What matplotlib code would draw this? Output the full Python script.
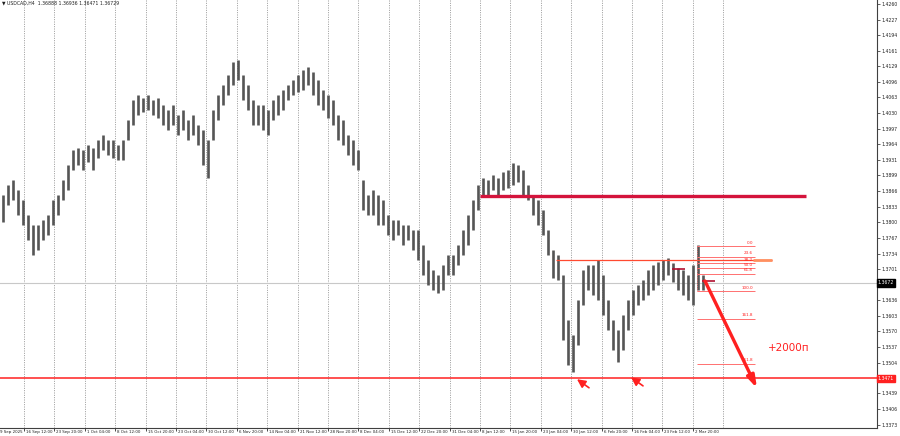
import matplotlib
matplotlib.use("Agg")
import numpy as np
import matplotlib.pyplot as plt

title = "USDCAD,H4  1.36888 1.36936 1.36471 1.36729"

# H4 bars squeezed into 5 px columns, high / low
highs = [1.3857, 1.3878, 1.3889, 1.3868, 1.3847, 1.3815, 1.3794, 1.3794, 1.3805, 1.3815,
         1.3847, 1.3857, 1.3889, 1.3921, 1.3952, 1.3956, 1.3952, 1.3963, 1.3956, 1.3973,
         1.3984, 1.3973, 1.3973, 1.3963, 1.3973, 1.4016, 1.4058, 1.4068, 1.4062, 1.4068,
         1.4058, 1.4062, 1.4047, 1.4037, 1.4047, 1.4026, 1.4037, 1.4016, 1.4026, 1.4005,
         1.3994, 1.3973, 1.4037, 1.4068, 1.4089, 1.4110, 1.4138, 1.4142, 1.4110, 1.4089,
         1.4058, 1.4047, 1.4047, 1.4037, 1.4058, 1.4068, 1.4079, 1.4089, 1.4100, 1.4110,
         1.4121, 1.4127, 1.4117, 1.4100, 1.4079, 1.4068, 1.4058, 1.4026, 1.4016, 1.3984,
         1.3973, 1.3952, 1.3889, 1.3857, 1.3868, 1.3857, 1.3847, 1.3815, 1.3805, 1.3805,
         1.3794, 1.3794, 1.3784, 1.3784, 1.3752, 1.3720, 1.3699, 1.3689, 1.3710, 1.3731,
         1.3731, 1.3752, 1.3784, 1.3815, 1.3847, 1.3878, 1.3893, 1.3889, 1.3900, 1.3893,
         1.3906, 1.3910, 1.3925, 1.3921, 1.3910, 1.3878, 1.3857, 1.3847, 1.3826, 1.3784,
         1.3741, 1.3731, 1.3689, 1.3594, 1.3562, 1.3636, 1.3699, 1.3710, 1.3710, 1.3720,
         1.3689, 1.3636, 1.3594, 1.3573, 1.3604, 1.3636, 1.3657, 1.3668, 1.3678, 1.3699,
         1.3710, 1.3716, 1.3720, 1.3725, 1.3714, 1.3703, 1.3699, 1.3689, 1.3710, 1.3752,
         1.3689]
lows = [1.3800, 1.3836, 1.3847, 1.3815, 1.3794, 1.3763, 1.3731, 1.3741, 1.3763, 1.3773,
        1.3794, 1.3815, 1.3847, 1.3868, 1.3910, 1.3921, 1.3910, 1.3927, 1.3910, 1.3935,
        1.3952, 1.3942, 1.3935, 1.3931, 1.3931, 1.3973, 1.4005, 1.4026, 1.4032, 1.4037,
        1.4026, 1.4020, 1.4005, 1.3994, 1.4005, 1.3984, 1.3994, 1.3973, 1.3984, 1.3963,
        1.3921, 1.3893, 1.3973, 1.4016, 1.4047, 1.4068, 1.4089, 1.4100, 1.4058, 1.4037,
        1.4005, 1.4005, 1.3994, 1.3984, 1.4016, 1.4026, 1.4037, 1.4058, 1.4068, 1.4074,
        1.4079, 1.4089, 1.4068, 1.4047, 1.4037, 1.4020, 1.4005, 1.3973, 1.3963, 1.3942,
        1.3921, 1.3910, 1.3826, 1.3815, 1.3815, 1.3794, 1.3794, 1.3773, 1.3763, 1.3773,
        1.3752, 1.3763, 1.3741, 1.3720, 1.3689, 1.3668, 1.3657, 1.3651, 1.3657, 1.3689,
        1.3689, 1.3710, 1.3731, 1.3752, 1.3784, 1.3826, 1.3857, 1.3857, 1.3868, 1.3857,
        1.3868, 1.3872, 1.3878, 1.3885, 1.3857, 1.3847, 1.3815, 1.3794, 1.3773, 1.3731,
        1.3682, 1.3678, 1.3552, 1.3499, 1.3484, 1.3541, 1.3626, 1.3657, 1.3647, 1.3636,
        1.3604, 1.3573, 1.3531, 1.3505, 1.3531, 1.3573, 1.3604, 1.3626, 1.3636, 1.3647,
        1.3657, 1.3668, 1.3678, 1.3689, 1.3674, 1.3657, 1.3647, 1.3636, 1.3626, 1.3657,
        1.3657]

first_date = "9 Sep 2025"
date_labels = ["16 Sep 12:00", "23 Sep 20:00", "1 Oct 04:00", "8 Oct 12:00", "15 Oct 20:00",
               "23 Oct 04:00", "30 Oct 12:00", "6 Nov 20:00", "14 Nov 04:00", "21 Nov 12:00",
               "28 Nov 20:00", "8 Dec 04:00", "15 Dec 12:00", "22 Dec 20:00", "31 Dec 04:00",
               "8 Jan 12:00", "15 Jan 20:00", "23 Jan 04:00", "30 Jan 12:00", "6 Feb 20:00",
               "16 Feb 04:00", "23 Feb 12:00", "2 Mar 20:00"]

price_ticks = [1.4260, 1.4227, 1.4194, 1.4161, 1.4129, 1.4096, 1.4063, 1.4030, 1.3997,
               1.3964, 1.3931, 1.3899, 1.3866, 1.3833, 1.3800, 1.3767, 1.3734, 1.3701,
               1.3636, 1.3603, 1.3570, 1.3537, 1.3504, 1.3439, 1.3406, 1.3373]

last_price = 1.3672
support = 1.3471
resistance = 1.3855
range_top = 1.3720
fib_top, fib_bottom = 1.3750, 1.3655
fib_levels = [0.0, 23.6, 38.2, 50.0, 61.8, 100.0, 161.8, 261.8]
target = "+2000п"

W, H = 900, 436
fig = plt.figure(figsize=(W / 100, H / 100), dpi=100)
ax = fig.add_axes([0, 8 / H, 877 / W, 428 / H])
ax.set_xlim(0, 877)
ax.set_ylim(1.33662, 1.42684)

red = "#ff2020"
fs = 3.3

# vertical grid, one line every 32 bars (~30.4 px)
grid_x = 24 + 30.4 * np.arange(len(date_labels) + 1)
for gx in grid_x:
    ax.axvline(gx, color="#8a8a8a", lw=0.6, ls=(0, (1.2, 1.6)), zorder=1)

# bars
bx = 2.5 + 5 * np.arange(len(highs))
ax.vlines(bx, lows, highs, color="#555555", lw=1.9, zorder=3)

# horizontal levels
ax.axhline(last_price, color="#c8c8c8", lw=0.8, zorder=2)
ax.axhline(support, color=red, lw=1.1, zorder=4)
ax.hlines(resistance, 480, 806, color="#d4143c", lw=2.4, zorder=4)
ax.hlines(range_top, 556, 772, color="#ff4a30", lw=0.9, zorder=4)
ax.hlines(range_top, 753, 772, color="#ff9060", lw=2.0, zorder=4)
ax.hlines([1.3701, 1.3677], [672, 702], [685, 715], color="#b01030", lw=1.2, zorder=5)

# fibonacci grid
for lv in fib_levels:
    p = fib_top - (fib_top - fib_bottom) * lv / 100
    ax.hlines(p, 697, 755, color="#ff7070", lw=0.7, zorder=4)
    ax.text(753, p + 0.0003, "%.1f" % lv, color=red, fontsize=fs - 0.3,
            ha="right", va="bottom", zorder=6)
ax.plot([697, 697], [fib_bottom, fib_top], color="#ff7070", lw=0.6, ls=":", zorder=4)

# target arrow and small markers
ax.annotate("", xy=(757, 1.3450), xytext=(705, 1.3676),
            arrowprops=dict(arrowstyle="-|>,head_length=0.7,head_width=0.22",
                            color=red, lw=2.4, shrinkA=0, shrinkB=0), zorder=7)
for mx, my in [(583, 1.3463), (637, 1.3467)]:
    ax.annotate("", xy=(mx - 6, my + 0.0006), xytext=(mx + 6, my - 0.0012),
                arrowprops=dict(arrowstyle="-|>,head_length=0.5,head_width=0.25",
                                color=red, lw=1.2, shrinkA=0, shrinkB=0), zorder=7)
ax.text(768, 1.3535, target, color=red, fontsize=7.5, va="center", ha="left")

# axes look
for s in ["top", "left"]:
    ax.spines[s].set_visible(False)
ax.spines["right"].set_color("#404040")
ax.spines["bottom"].set_color("#404040")
ax.spines["right"].set_linewidth(0.8)
ax.spines["bottom"].set_linewidth(0.8)
ax.yaxis.tick_right()
ax.set_yticks(price_ticks)
ax.set_yticklabels(["%.4f" % t for t in price_ticks])
ax.tick_params(axis="y", labelsize=fs, length=2, width=0.5, pad=1.5, colors="#202020")
ax.set_xticks(grid_x[:-1])
ax.set_xticklabels([])
ax.tick_params(axis="x", length=2, width=0.5)
xfs = 2.9
for gx, lab in zip(grid_x, date_labels):
    ax.text(gx + 2, -0.004, lab, transform=ax.get_xaxis_transform(), fontsize=xfs,
            ha="left", va="top", color="#202020", clip_on=False)
ax.text(0.5, -0.004, first_date, transform=ax.get_xaxis_transform(), fontsize=xfs,
        ha="left", va="top", color="#202020", clip_on=False)

# price labels on the scale
ax.text(1.001, last_price, "%.4f" % last_price, transform=ax.get_yaxis_transform(),
        fontsize=fs, color="white", ha="left", va="center", clip_on=False,
        bbox=dict(boxstyle="square,pad=0.25", fc="black", ec="black"))
ax.text(1.001, support, "%.4f" % support, transform=ax.get_yaxis_transform(),
        fontsize=fs, color="white", ha="left", va="center", clip_on=False,
        bbox=dict(boxstyle="square,pad=0.25", fc=red, ec=red))

ax.text(2, 1.4262, "▼ " + title, fontsize=fs, color="#202020", ha="left", va="center")

fig.savefig("out.png", dpi=100)
